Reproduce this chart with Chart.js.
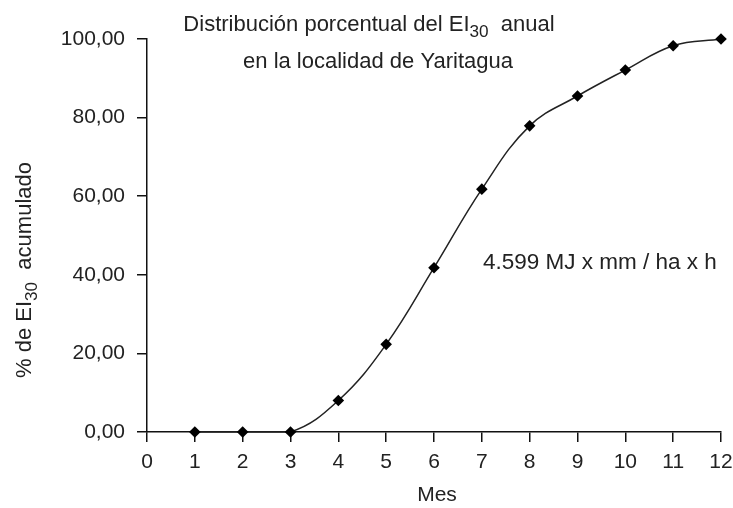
<!DOCTYPE html>
<html>
<head>
<meta charset="utf-8">
<script src="https://cdn.jsdelivr.net/npm/chart.js@4"></script>
<style>
  html, body { margin: 0; padding: 0; background: #fff; }
</style>
</head>
<body>
<canvas id="eiChart" width="733" height="508"></canvas>
<script>
// datos
const meses = [1, 2, 3, 4, 5, 6, 7, 8, 9, 10, 11, 12];
const acumulado = [0, 0, 0, 8, 22.3, 41.8, 61.8, 77.9, 85.5, 92.1, 98.3, 100];
const xTicks = [0, 1, 2, 3, 4, 5, 6, 7, 8, 9, 10, 11, 12];
const yTicks = [0, 20, 40, 60, 80, 100];

const FONT = '"Liberation Sans", Arial, sans-serif';

// draws text with a subscript part: [[text, isSub], ...]
function drawParts(ctx, parts, x, y, size, align) {
  const subSize = size * 0.78;
  let total = 0;
  parts.forEach(p => {
    ctx.font = (p[1] ? subSize : size) + 'px ' + FONT;
    total += ctx.measureText(p[0]).width;
  });
  let cx = align === 'center' ? x - total / 2 : x;
  ctx.textAlign = 'left';
  ctx.textBaseline = 'middle';
  parts.forEach(p => {
    ctx.font = (p[1] ? subSize : size) + 'px ' + FONT;
    ctx.fillText(p[0], cx, p[1] ? y + size * 0.33 : y);
    cx += ctx.measureText(p[0]).width;
  });
}

const textPlugin = {
  id: 'textos',
  afterDraw(chart) {
    const ctx = chart.ctx;
    ctx.save();
    ctx.fillStyle = '#222';
    drawParts(ctx, [['Distribución porcentual del EI', false], ['30', true], ['  anual', false]], 369, 25, 22, 'center');
    drawParts(ctx, [['en la localidad de Yaritagua', false]], 378, 62, 22, 'center');
    drawParts(ctx, [['4.599 MJ x mm / ha x h', false]], 483, 263, 22.5, 'left');
    drawParts(ctx, [['Mes', false]], 437, 495, 21, 'center');
    // y axis title
    ctx.translate(25, 270);
    ctx.rotate(-Math.PI / 2);
    drawParts(ctx, [['% de EI', false], ['30', true], ['  acumulado', false]], 0, 0, 22, 'center');
    ctx.restore();
  }
};

const ctx = document.getElementById('eiChart').getContext('2d');

new Chart(ctx, {
  type: 'line',
  data: {
    labels: meses,
    datasets: [{
      data: meses.map((m, i) => ({ x: m, y: acumulado[i] })),
      borderColor: '#222',
      borderWidth: 1.5,
      tension: 0.4,
      fill: false,
      clip: 12,
      pointStyle: 'rectRot',
      pointRadius: 5.8,
      pointBackgroundColor: '#000',
      pointBorderColor: '#000',
      pointBorderWidth: 0
    }]
  },
  options: {
    responsive: false,
    animation: false,
    layout: {
      padding: { top: 39, right: 12, left: 0, bottom: 0 }
    },
    plugins: {
      legend: { display: false },
      tooltip: { enabled: false }
    },
    scales: {
      x: {
        type: 'linear',
        min: 0,
        max: 12,
        afterBuildTicks: s => { s.ticks = xTicks.map(v => ({ value: v })); },
        afterFit: s => { s.height = 76; s.paddingLeft = 0; s.paddingRight = 0; },
        border: { color: '#111', width: 1.5 },
        grid: { drawOnChartArea: false, drawTicks: true, tickLength: 10, color: '#111', lineWidth: 1.5 },
        ticks: {
          color: '#222',
          padding: 8,
          maxRotation: 0,
          autoSkip: false,
          font: { family: FONT, size: 21 }
        }
      },
      y: {
        min: 0,
        max: 100,
        afterBuildTicks: s => { s.ticks = yTicks.map(v => ({ value: v })); },
        afterFit: s => { s.width = 147; s.paddingTop = 0; s.paddingBottom = 0; },
        border: { color: '#111', width: 1.5 },
        grid: { drawOnChartArea: false, drawTicks: true, tickLength: 10, color: '#111', lineWidth: 1.5 },
        ticks: {
          color: '#222',
          padding: 12,
          autoSkip: false,
          font: { family: FONT, size: 21 },
          callback: v => v.toFixed(2).replace('.', ',')
        }
      }
    }
  },
  plugins: [textPlugin]
});
</script>
</body>
</html>
